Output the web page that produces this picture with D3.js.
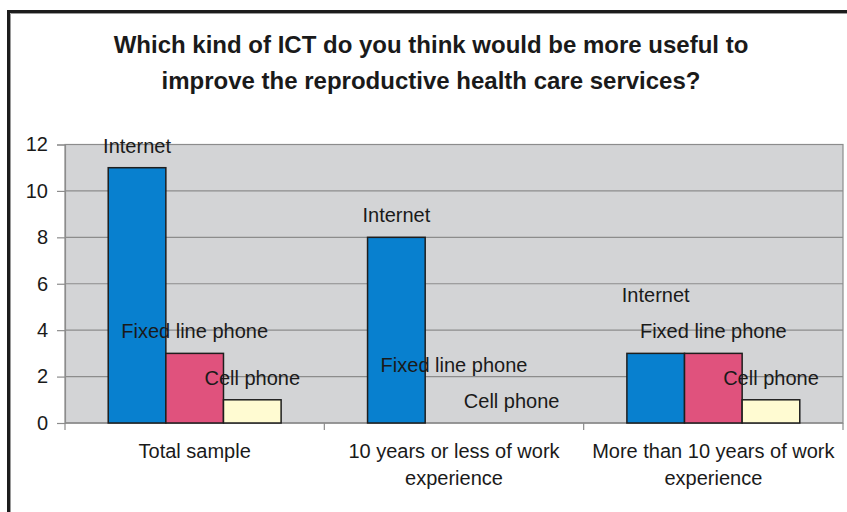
<!DOCTYPE html>
<html>
<head>
<meta charset="utf-8">
<script src="https://cdn.jsdelivr.net/npm/d3@7"></script>
<style>
  html, body { margin: 0; padding: 0; background: #ffffff; }
  svg { display: block; }
  text { font-family: "Liberation Sans", Arial, sans-serif; fill: #1a1a1a; }
</style>
</head>
<body>
<svg id="chart" width="847" height="512"></svg>
<script>
// Survey answers: preferred ICT for reproductive health care services
const categories = [
  ["Total sample"],
  ["10 years or less of work", "experience"],
  ["More than 10 years of work", "experience"]
];
const seriesNames = ["Internet", "Fixed line phone", "Cell phone"];
const internet  = [11, 8, 3];
const fixedLine = [3, 0, 3];
const cellPhone = [1, 0, 1];
const yTicks = [0, 2, 4, 6, 8, 10, 12];
const titleLines = [
  "Which kind of ICT do you think would be more useful to",
  "improve the reproductive health care services?"
];

const seriesValues = [internet, fixedLine, cellPhone];
const colors = ["#0880cf", "#e0527d", "#fffbd2"];

const svg = d3.select("#chart");
const W = 847, H = 512;
const plot = { left: 65, top: 144.5, right: 843, bottom: 423 };

// Outer chart frame (runs off the right and bottom edges)
svg.append("rect")
  .attr("x", 8.5).attr("y", 11.5)
  .attr("width", W + 20).attr("height", H + 20)
  .attr("fill", "#ffffff")
  .attr("stroke", "#1c1c1c").attr("stroke-width", 3);
svg.append("path")
  .attr("d", `M10.5,${H + 5} V13.5 H${W + 5}`)
  .attr("fill", "none").attr("stroke", "#9a9a9a").attr("stroke-width", 1);

// Title
svg.append("g").selectAll("text")
  .data(titleLines)
  .join("text")
  .attr("x", 431)
  .attr("y", (d, i) => 53 + i * 36)
  .attr("text-anchor", "middle")
  .attr("font-size", 24)
  .attr("font-weight", "bold")
  .text(d => d);

const x0 = d3.scaleBand()
  .domain(d3.range(categories.length))
  .range([plot.left, plot.right])
  .paddingInner(0).paddingOuter(0);

// 150% gap between clusters: cluster occupies 3 of 4.5 bar widths
const barW = x0.bandwidth() / 4.5;
const x1 = d3.scaleBand()
  .domain(d3.range(seriesNames.length))
  .range([0, barW * 3]);

const y = d3.scaleLinear().domain([0, 12]).range([plot.bottom, plot.top]);

// Plot area background
svg.append("rect")
  .attr("x", plot.left).attr("y", plot.top)
  .attr("width", plot.right - plot.left)
  .attr("height", plot.bottom - plot.top)
  .attr("fill", "#d3d4d6")
  .attr("stroke", "#8c8c8c").attr("stroke-width", 1.2);

// Horizontal gridlines
svg.append("g").selectAll("line")
  .data(yTicks.filter(t => t > 0))
  .join("line")
  .attr("x1", plot.left).attr("x2", plot.right)
  .attr("y1", d => y(d)).attr("y2", d => y(d))
  .attr("stroke", "#8c8c8c").attr("stroke-width", 1.2);

// Y axis
const yAxis = d3.axisLeft(y).tickValues(yTicks).tickSize(8).tickPadding(9);
const gy = svg.append("g")
  .attr("transform", `translate(${plot.left},0)`)
  .call(yAxis);
gy.select(".domain").attr("stroke", "#8c8c8c").attr("stroke-width", 1.2);
gy.selectAll(".tick line").attr("stroke", "#8c8c8c").attr("stroke-width", 1.2);
gy.selectAll(".tick text")
  .attr("font-size", 20)
  .attr("font-family", "Liberation Sans, Arial, sans-serif")
  .attr("fill", "#1a1a1a");

// X axis baseline and category separators
svg.append("line")
  .attr("x1", plot.left).attr("x2", plot.right)
  .attr("y1", plot.bottom).attr("y2", plot.bottom)
  .attr("stroke", "#8c8c8c").attr("stroke-width", 1.5);
svg.append("g").selectAll("line")
  .data(d3.range(categories.length + 1))
  .join("line")
  .attr("x1", i => plot.left + i * x0.bandwidth())
  .attr("x2", i => plot.left + i * x0.bandwidth())
  .attr("y1", plot.bottom).attr("y2", plot.bottom + 7)
  .attr("stroke", "#8c8c8c").attr("stroke-width", 1.2);

// Bars
const bars = [];
categories.forEach((c, ci) => {
  seriesValues.forEach((vals, si) => {
    bars.push({ ci, si, v: vals[ci] });
  });
});
const clusterX = ci => x0(ci) + (x0.bandwidth() - barW * 3) / 2;

svg.append("g").selectAll("rect")
  .data(bars.filter(d => d.v > 0))
  .join("rect")
  .attr("x", d => clusterX(d.ci) + x1(d.si))
  .attr("y", d => y(d.v))
  .attr("width", x1.bandwidth())
  .attr("height", d => y(0) - y(d.v))
  .attr("fill", d => colors[d.si])
  .attr("stroke", "#1e1e1e").attr("stroke-width", 1.5);

// Series-name labels above each bar; two were lifted clear of neighbours
const lifted = { "1-1": -36, "2-0": -36 };
svg.append("g").selectAll("text")
  .data(bars)
  .join("text")
  .attr("x", d => clusterX(d.ci) + x1(d.si) + x1.bandwidth() / 2)
  .attr("y", d => y(d.v) - 15 + (lifted[d.ci + "-" + d.si] || 0))
  .attr("text-anchor", "middle")
  .attr("font-size", 20)
  .text(d => seriesNames[d.si]);

// Category labels
const cat = svg.append("g");
categories.forEach((lines, ci) => {
  cat.append("text")
    .attr("x", x0(ci) + x0.bandwidth() / 2)
    .attr("y", 458)
    .attr("text-anchor", "middle")
    .attr("font-size", 20)
    .selectAll("tspan")
    .data(lines)
    .join("tspan")
    .attr("x", x0(ci) + x0.bandwidth() / 2)
    .attr("dy", (d, i) => i === 0 ? 0 : 27)
    .text(d => d);
});
</script>
</body>
</html>
